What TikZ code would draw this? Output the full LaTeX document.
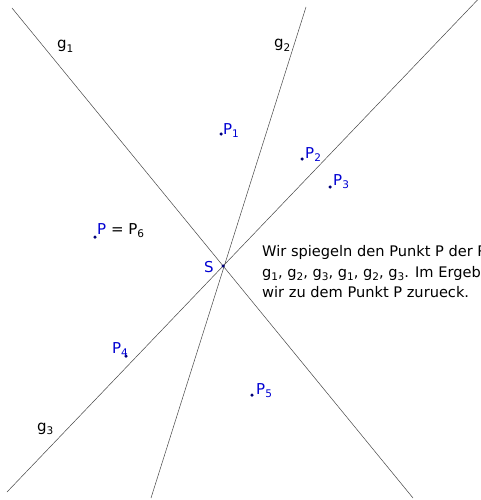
\documentclass[tikz,border=0pt]{standalone}
\usepackage{fontspec}
\setmainfont{DejaVu Sans}
\usetikzlibrary{positioning}
\definecolor{ptblue}{RGB}{0,0,210}
\definecolor{dotblue}{RGB}{0,0,120}
\definecolor{linegray}{RGB}{70,70,70}
\newcommand{\idx}[1]{\raisebox{-3.5pt}{\fontsize{10.5}{12}\selectfont #1}}

\begin{document}
\begin{tikzpicture}[x=1pt,y=-1pt,font=\fontsize{15}{18}\selectfont,
  gline/.style={linegray,line width=0.5pt},
  pt/.style={circle,fill=dotblue,inner sep=0pt,minimum size=3.5pt},
  ptlabel/.style={text=ptblue,anchor=base west,inner sep=0pt},
  glabel/.style={anchor=base west,inner sep=0pt}]
  \useasboundingbox (0,0) rectangle (481,500);
  \clip (0,0) rectangle (481,500);
  % end points of the lines
  \coordinate (g1a) at (12,8);
  \coordinate (g1b) at (413,498);
  \coordinate (g2a) at (306,7);
  \coordinate (g2b) at (151,498);
  \coordinate (g3a) at (7,492);
  \coordinate (g3b) at (487,-10);
  % lines
  \draw[gline] (g1a) -- (g1b);
  \draw[gline] (g2a) -- (g2b);
  \draw[gline] (g3a) -- (g3b);
  \node[glabel] (lg1) at (57,49) {g\idx{1}};
  \node[glabel] (lg2) at (274,48) {g\idx{2}};
  \node[glabel] (lg3) at (37,431) {g\idx{3}};
  % points
  \node[pt] (S)  at (223,266) {};
  \node[pt] (P)  at (95,237) {};
  \node[pt] (P1) at (221,134) {};
  \node[pt] (P2) at (302,159) {};
  \node[pt] (P3) at (330,187) {};
  \node[pt] (P4) at (126,356) {};
  \node[pt] (P5) at (252,395) {};
  % labels
  \node[ptlabel] (lS)  at (204,272) {S};
  \node[ptlabel] (lP)  at (97,234) {P\ \textcolor{black}{= P\idx{6}}};
  \node[ptlabel] (lP1) at (223,134) {P\idx{1}};
  \node[ptlabel] (lP2) at (305,158) {P\idx{2}};
  \node[ptlabel] (lP3) at (333,185) {P\idx{3}};
  \node[ptlabel] (lP4) at (112,353) {P\idx{4}};
  \node[ptlabel] (lP5) at (256,394) {P\idx{5}};
  % text
  \node[anchor=north west,align=left,inner sep=0pt,font=\fontsize{14.6}{20.5}\selectfont] (info) at (262,245.5)
       {Wir spiegeln den Punkt P der Reihe nach an den Geraden\\
        g\idx{1}, g\idx{2}, g\idx{3}, g\idx{1}, g\idx{2}, g\idx{3}. Im Ergebnis kommen\\
        wir zu dem Punkt P zurueck.};
\end{tikzpicture}
\end{document}
